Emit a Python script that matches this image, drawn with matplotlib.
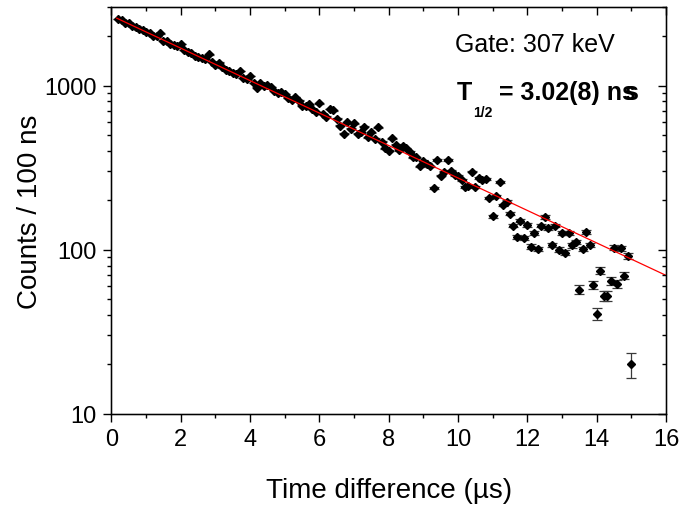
import matplotlib
matplotlib.use('Agg')
import matplotlib.pyplot as plt
from matplotlib.ticker import MultipleLocator, LogLocator, NullFormatter, FuncFormatter

plt.rcParams['font.family'] = ['Liberation Sans', 'DejaVu Sans']

# decay curve, 100 ns bins (time in microseconds as on the axis)
time_us = [0.2, 0.3, 0.4, 0.5, 0.6, 0.7, 0.8, 0.9, 1.0, 1.1,
           1.2, 1.3, 1.4, 1.5, 1.6, 1.7, 1.8, 1.9, 2.0, 2.1,
           2.2, 2.3, 2.4, 2.5, 2.6, 2.7, 2.8, 2.9, 3.0, 3.1,
           3.2, 3.3, 3.4, 3.5, 3.6, 3.7, 3.8, 3.9, 4.0, 4.1,
           4.2, 4.3, 4.4, 4.5, 4.6, 4.7, 4.8, 4.9, 5.0, 5.1,
           5.2, 5.3, 5.4, 5.5, 5.6, 5.7, 5.8, 5.9, 6.0, 6.1,
           6.2, 6.3, 6.4, 6.5, 6.6, 6.7, 6.8, 6.9, 7.0, 7.1,
           7.2, 7.3, 7.4, 7.5, 7.6, 7.7, 7.8, 7.9, 8.0, 8.1,
           8.2, 8.3, 8.4, 8.5, 8.6, 8.7, 8.8, 8.9, 9.0, 9.1,
           9.2, 9.3, 9.4, 9.5, 9.6, 9.7, 9.8, 9.9, 10.0, 10.1,
           10.2, 10.3, 10.4, 10.5, 10.6, 10.7, 10.8, 10.9, 11.0, 11.1,
           11.2, 11.3, 11.4, 11.5, 11.6, 11.7, 11.8, 11.9, 12.0, 12.1,
           12.2, 12.3, 12.4, 12.5, 12.6, 12.7, 12.8, 12.9, 13.0, 13.1,
           13.2, 13.3, 13.4, 13.5, 13.6, 13.7, 13.8, 13.9, 14.0, 14.1,
           14.2, 14.3, 14.4, 14.5, 14.6, 14.7, 14.8, 14.9, 15.0]
counts = [2550, 2500, 2420, 2400, 2310, 2290, 2200, 2180, 2110, 2090,
          2010, 2000, 2080, 1880, 1860, 1790, 1760, 1750, 1800, 1650,
          1600, 1570, 1510, 1490, 1480, 1450, 1550, 1390, 1340, 1380,
          1290, 1240, 1230, 1190, 1170, 1230, 1110, 1090, 1140, 1040,
          970, 1040, 990, 1010, 980, 930, 900, 920, 890, 840,
          815, 850, 810, 755, 750, 770, 720, 690, 780, 670,
          645, 721, 705, 627, 570, 508, 598, 545, 590, 508,
          520, 562, 484, 520, 475, 557, 455, 415, 402, 478,
          435, 405, 427, 415, 394, 366, 366, 322, 349, 335,
          322, 238, 352, 283, 299, 352, 303, 285, 280, 267,
          242, 246, 299, 242, 272, 266, 270, 206, 160, 213,
          260, 187, 196, 165, 140, 119, 150, 118, 141, 104,
          126, 101, 140, 158, 135, 107, 140, 100, 126, 96,
          126, 106, 111, 57, 101, 128, 107, 61, 40.5, 74.5,
          52.4, 52.4, 64.7, 103, 61.5, 102, 69.4, 91.8, 20]
count_err = 3.5

# exponential fit, straight on the log axis
fit_t = [0.15, 16.0]
fit_counts = [2576, 69.7]

fig = plt.figure(figsize=(6.83, 5.06), dpi=100)
ax = fig.add_axes([0.1632, 0.1804, 0.8119, 0.8032])

ax.errorbar(time_us, counts, yerr=count_err, fmt='D', ms=3.9, mfc='black', mec='black',
            ecolor='#3a3a3a', elinewidth=0.9, capsize=3.6, capthick=0.9, zorder=2)
ax.plot(fit_t, fit_counts, color='red', lw=0.9, zorder=3)

ax.set_yscale('log')
ax.set_xlim(0, 16)
ax.set_ylim(10, 3000)
ax.xaxis.set_major_locator(MultipleLocator(2))
ax.xaxis.set_minor_locator(MultipleLocator(1))
ax.yaxis.set_major_locator(LogLocator(base=10))
ax.yaxis.set_minor_locator(LogLocator(base=10, subs=range(2, 10)))
ax.yaxis.set_major_formatter(FuncFormatter(lambda v, p: f'{v:g}'))
ax.yaxis.set_minor_formatter(NullFormatter())
ax.tick_params(which='both', direction='out', width=1, labelsize=17, top=False, right=False)
ax.tick_params(which='major', length=5.5, pad=5)
ax.tick_params(which='minor', length=3)
for s in ax.spines.values():
    s.set_linewidth(1.0)

# top / right ticks point inwards
axt = ax.twiny()
axt.set_xlim(0, 16)
axt.xaxis.set_major_locator(MultipleLocator(2))
axt.xaxis.set_minor_locator(MultipleLocator(1))
axt.tick_params(which='both', direction='in', width=1, labeltop=False)
axt.tick_params(which='major', length=5.5)
axt.tick_params(which='minor', length=3)
axr = ax.twinx()
axr.set_yscale('log')
axr.set_ylim(10, 3000)
axr.yaxis.set_major_locator(LogLocator(base=10))
axr.yaxis.set_minor_locator(LogLocator(base=10, subs=range(2, 10)))
axr.tick_params(which='both', direction='in', width=1, labelright=False)
axr.tick_params(which='major', length=5.5)
axr.tick_params(which='minor', length=3)

ax.set_xlabel('Time difference (\u00b5s)', fontsize=20, labelpad=19)
ax.set_ylabel('Counts / 100 ns', fontsize=20, labelpad=1)

fig.text(455 / 683, 1 - 52 / 506, 'Gate: 307 keV', fontsize=18, va='baseline')
tT = fig.text(457 / 683, 1 - 100 / 506, 'T', fontsize=18, weight='bold', va='baseline')
tSub = ax.annotate('1/2', xy=(1, 0), xycoords=tT, xytext=(0.5, -8.5), textcoords='offset points',
                   fontsize=10, weight='bold', va='baseline', ha='left')
tRest = ax.annotate(' = 3.02(8) ns', xy=(1, 0), xycoords=(tSub, tT), xytext=(0, 0),
                    textcoords='offset points', fontsize=18, weight='bold', va='bottom', ha='left')
ax.annotate('s', xy=(1, 0), xycoords=tRest, xytext=(1.5, 0), textcoords='offset points',
            fontsize=18, weight='bold', va='bottom', ha='right')

fig.savefig('out.png', dpi=100)
